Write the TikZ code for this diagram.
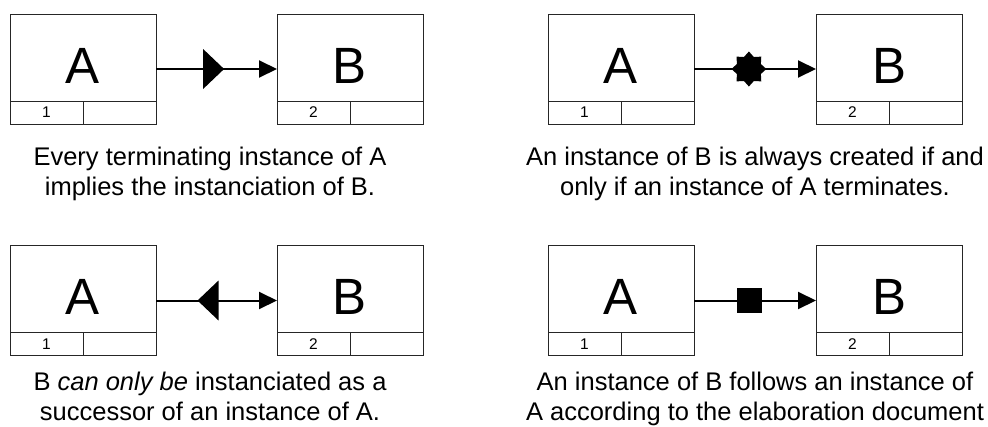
\documentclass[tikz,border=0pt]{standalone}
\usepackage{fontspec}
\setmainfont{Liberation Sans}
\usetikzlibrary{shapes.geometric,arrows.meta}
\tikzset{
  entity/.style={draw=black!85, line width=0.9pt, minimum width=146pt, minimum height=110pt, inner sep=0pt, outer sep=0pt},
  innerline/.style={draw=black!85, line width=0.9pt},
  letter/.style={font=\fontsize{51}{51}\selectfont, anchor=base, inner sep=0pt},
  num/.style={font=\fontsize{15.5}{15.5}\selectfont, anchor=base, inner sep=0pt},
  conn/.style={line width=2pt, -{Triangle[length=18pt,width=17pt]}},
  caption/.style={font=\fontsize{25.5}{30}\selectfont, align=center, anchor=base, inner sep=0pt},
  tri/.style={isosceles triangle, isosceles triangle stretches, fill=black, inner sep=0pt, minimum width=40pt, minimum height=21pt},
  starmark/.style={star, star points=8, star point ratio=1.35, minimum size=35pt, fill=black, inner sep=0pt},
  squaremark/.style={rectangle, minimum size=25pt, fill=black, inner sep=0pt},
}
\newcommand\entitybox[5]{%
  \node[entity, anchor=north west] (#1) at (#2,#3) {};
  \draw[innerline] ([yshift=23pt]#1.south west) -- ([yshift=23pt]#1.south east);
  \draw[innerline] ([yshift=23pt]#1.south) -- (#1.south);
  \node[letter] (#1-l) at ([yshift=-69pt]#1.north) {#4};
  \node[num] (#1-n) at ([xshift=-36.5pt,yshift=6.5pt]#1.south) {#5};
}
\begin{document}
\begin{tikzpicture}[x=1pt,y=-1pt]
\useasboundingbox (0,0) rectangle (988,426);
% row 1
\entitybox{A1}{10}{14}{A}{1}
\entitybox{B1}{277}{14}{B}{2}
\entitybox{A2}{548}{14}{A}{1}
\entitybox{B2}{816}{14}{B}{2}
% row 2
\entitybox{A3}{10}{245.5}{A}{1}
\entitybox{B3}{277}{245.5}{B}{2}
\entitybox{A4}{548}{245.5}{A}{1}
\entitybox{B4}{816}{245.5}{B}{2}
% connectors
\draw[conn] (A1) -- node[pos=0.46, tri, shape border rotate=0] (m1) {} (B1);
\draw[conn] (A2) -- node[pos=0.45, starmark] (m2) {} (B2);
\draw[conn] (A3) -- node[pos=0.446, tri, shape border rotate=180] (m3) {} (B3);
\draw[conn] (A4) -- node[pos=0.455, squaremark] (m4) {} (B4);
% captions (anchor base = last line)
\node[caption] (c1) at (210,195) {Every terminating instance of A\\implies the instanciation of B.};
\node[caption] (c2) at (755,195) {An instance of B is always created if and\\only if an instance of A terminates.};
\node[caption] (c3) at (210,420) {B \textit{can only be} instanciated as a\\successor of an instance of A.};
\node[caption] (c4) at (755,420) {An instance of B follows an instance of\\A according to the elaboration document};
\end{tikzpicture}
\end{document}
